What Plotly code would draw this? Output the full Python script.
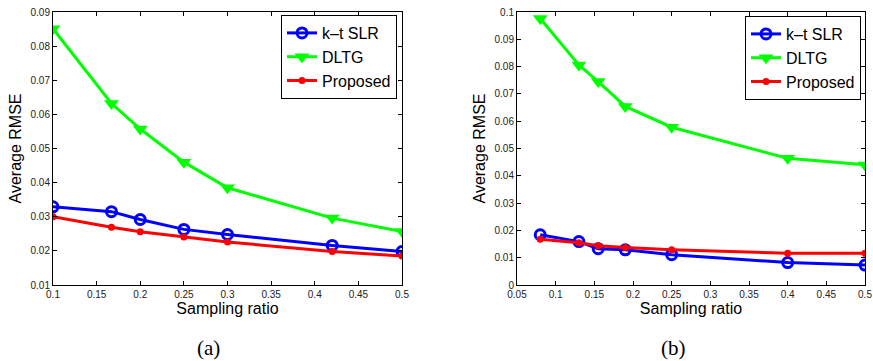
import plotly.graph_objects as go

# ---- data ----
x_a = [0.1, 0.167, 0.2, 0.25, 0.3, 0.42, 0.5]
ktslr_a = [0.0329, 0.0315, 0.0292, 0.0263, 0.0248, 0.0216, 0.0198]
dltg_a = [0.0851, 0.0632, 0.0557, 0.0460, 0.0385, 0.0296, 0.0257]
prop_a = [0.0300, 0.0269, 0.0256, 0.0241, 0.0226, 0.0198, 0.0185]

x_b = [0.08, 0.13, 0.155, 0.19, 0.25, 0.4, 0.5]
ktslr_b = [0.0184, 0.0159, 0.0133, 0.0129, 0.0111, 0.0082, 0.0073]
dltg_b = [0.0976, 0.0806, 0.0745, 0.0654, 0.0578, 0.0464, 0.0440]
prop_b = [0.0168, 0.0155, 0.0144, 0.0137, 0.0129, 0.0116, 0.0116]

series_names = ["k\u2013t SLR", "DLTG", "Proposed"]
panel_labels = ["(a)", "(b)"]
x_title = "Sampling ratio"
y_title = "Average RMSE"

W, H = 873, 361
fig = go.Figure()

styles = [
    dict(color="#0000ff", symbol="circle-open", size=10, mlw=3),
    dict(color="#00ff00", symbol="triangle-down", size=13, mlw=0),
    dict(color="#ff0000", symbol="circle", size=7, mlw=0),
]

def add_panel(xv, ys, xa, ya, leg):
    for name, y, st in zip(series_names, ys, styles):
        fig.add_trace(go.Scatter(
            x=xv, y=y, name=name, mode="lines+markers",
            xaxis=xa, yaxis=ya, legend=leg,
            line=dict(color=st["color"], width=3),
            marker=dict(symbol=st["symbol"], size=st["size"], color=st["color"],
                        line=dict(width=st["mlw"], color=st["color"])),
        ))

add_panel(x_a, [ktslr_a, dltg_a, prop_a], "x", "y", "legend")
add_panel(x_b, [ktslr_b, dltg_b, prop_b], "x2", "y2", "legend2")

ybot = 1 - 285 / H
ytop = 1 - 12 / H

axis_common = dict(
    showline=True, linecolor="black", linewidth=1, mirror="ticks",
    ticks="inside", ticklen=4, tickcolor="black", showgrid=False, zeroline=False,
    automargin=False, ticklabeloverflow="allow",
    tickfont=dict(family="Liberation Sans, Arial", size=10, color="#222"),
)
title_font = dict(family="Liberation Sans, Arial", size=16, color="black")

leg_common = dict(xanchor="right", yanchor="top",
                  bordercolor="black", borderwidth=1, bgcolor="white",
                  font=dict(family="Liberation Sans, Arial", size=16, color="black"),
                  tracegroupgap=0, itemwidth=30)

fig.update_layout(
    width=W, height=H, margin=dict(l=0, r=0, t=0, b=0),
    paper_bgcolor="white", plot_bgcolor="white",
    xaxis=dict(domain=[53 / W, 402 / W], range=[0.1, 0.5], dtick=0.05, tick0=0.1,
               title=dict(text=x_title, font=title_font, standoff=2), anchor="y", **axis_common),
    yaxis=dict(domain=[ybot, ytop], range=[0.01, 0.09], dtick=0.01, tick0=0.01,
               title=dict(text=y_title, font=title_font, standoff=4), anchor="x", **axis_common),
    xaxis2=dict(domain=[517 / W, 865 / W], range=[0.05, 0.5], dtick=0.05, tick0=0.05,
                title=dict(text=x_title, font=title_font, standoff=2), anchor="y2", **axis_common),
    yaxis2=dict(domain=[ybot, ytop], range=[0, 0.1], dtick=0.01, tick0=0,
                title=dict(text=y_title, font=title_font, standoff=4), anchor="x2", **axis_common),
    legend=dict(x=397 / W, y=1 - 15 / H, **leg_common),
    legend2=dict(x=861 / W, y=1 - 16 / H, **leg_common),
    showlegend=True,
)

for lbl, xc in zip(panel_labels, [208 / W, 673 / W]):
    fig.add_annotation(text=lbl, x=xc, y=1 - 348 / H, xref="paper", yref="paper",
                       showarrow=False, xanchor="center", yanchor="middle",
                       font=dict(family="Liberation Serif, DejaVu Serif", size=21, color="black"))

fig.write_html("out.html",
               config={"displayModeBar": False},
               post_script="document.body.style.margin='0';document.body.style.padding='0';"
                           "document.body.style.overflow='hidden';")
